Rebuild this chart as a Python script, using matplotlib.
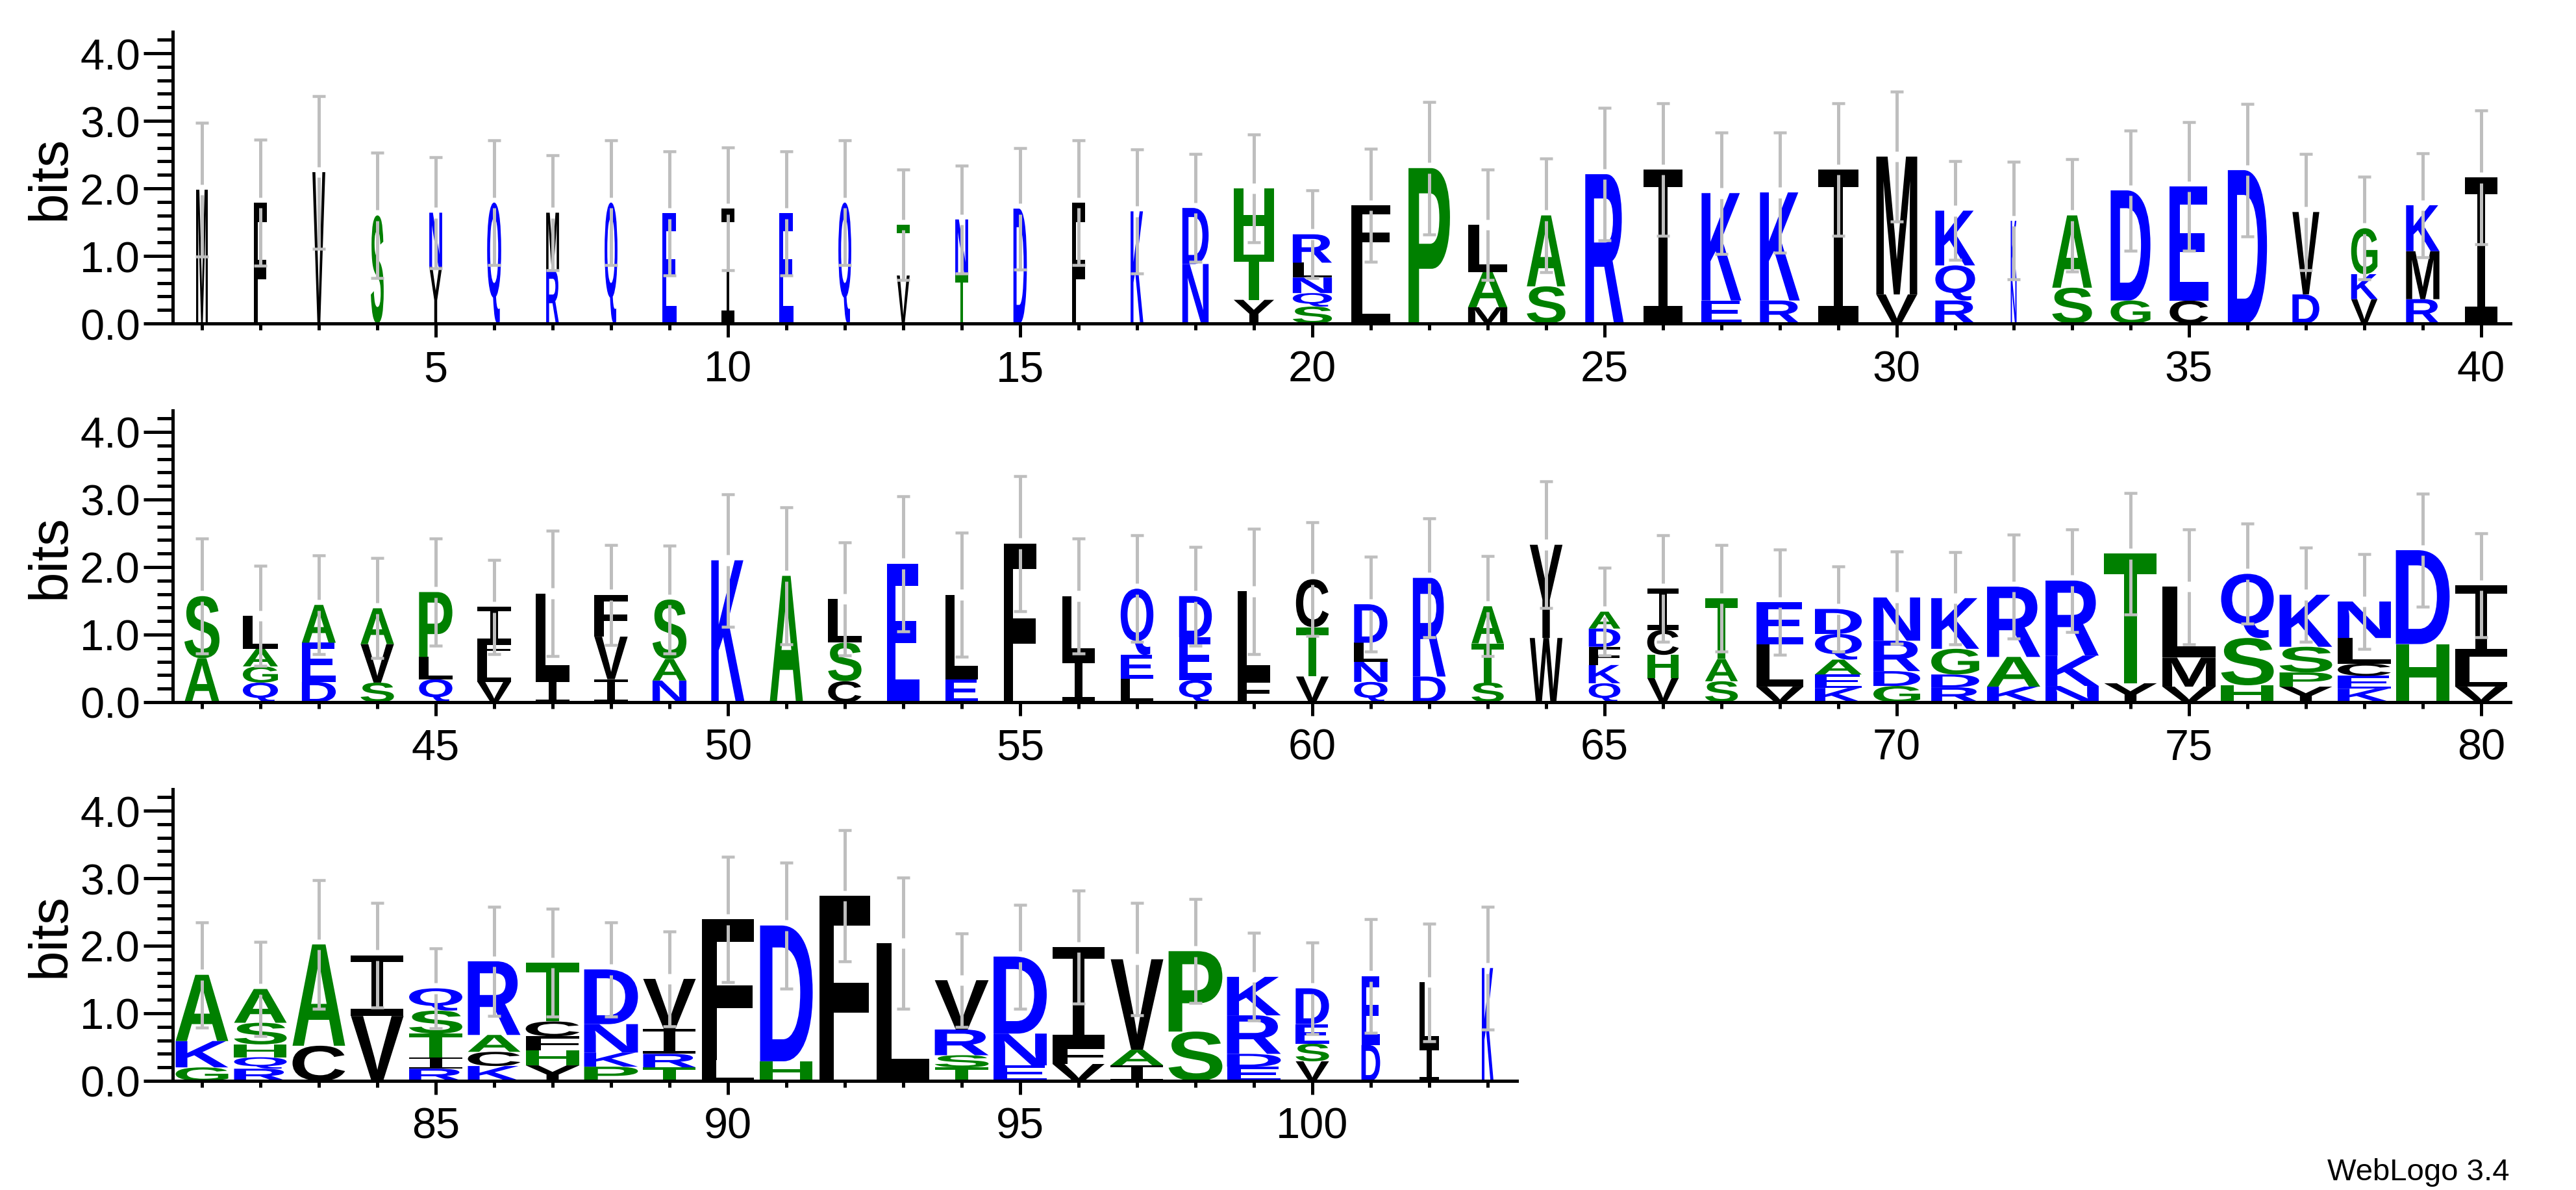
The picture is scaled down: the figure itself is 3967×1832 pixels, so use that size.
import matplotlib
matplotlib.use('Agg')
import matplotlib.pyplot as plt
from matplotlib.textpath import TextPath
from matplotlib.font_manager import FontProperties
from matplotlib.patches import PathPatch
from matplotlib.transforms import Affine2D
from matplotlib.ticker import MultipleLocator, FormatStrFormatter

# ---------------- data ----------------
positions = list(range(1, 104))

# letters of each stack, bottom -> top
stack_letters = [
    "M", "F", "V", "S", "YN", "Q", "RM", "Q", "E", "I",
    "E", "Q", "VT", "TN", "D", "F", "K", "ND", "YTH", "SQNLR",
    "LF", "P", "MAL", "SA", "R", "I", "EK", "RK", "I", "VM",
    "RQK", "NK", "SA", "GD", "CE", "D", "DV", "VKG", "RMK", "I",
    "AS", "QGAL", "DEA", "SVA", "QLP", "VLFI", "IL", "IVF", "NAS", "K",
    "A", "CSL", "E", "EL", "F", "IL", "LEQ", "QED", "FL", "VTC",
    "QNLD", "DR", "STA", "WY", "QKFDA", "VHCI", "SAT", "VLE", "KEAQD", "GDRN",
    "RDGK", "KAR", "NKR", "YT", "VML", "HSQ", "YPSK", "KECLN", "HD", "VLI",
    "GKA", "RQHSA", "CA", "VI", "RITSQ", "KCAR", "YHFCT", "PKND", "TRIV", "LF",
    "HD", "F", "L", "TSRV", "END", "VFI", "IAV", "SP", "EDRK", "VSED",
    "DE", "IL", "K",
]

# height (bits) of each letter, same order as stack_letters
stack_bits = [
    [1.98], [1.79], [2.24], [1.60], [0.84, 0.80], [1.79], [0.79, 0.85], [1.79], [1.63], [1.70],
    [1.63], [1.79], [0.71, 0.75], [0.72, 0.82], [1.70], [1.79], [1.66], [0.88, 0.83], [0.35, 0.67, 0.98], [0.25, 0.20, 0.23, 0.22, 0.42],
    [0.89, 0.86], [2.30], [0.24, 0.52, 0.70], [0.55, 1.05], [2.21], [2.28], [0.34, 1.59], [0.34, 1.60], [2.28], [0.43, 2.04],
    [0.34, 0.52, 0.81], [0.64, 0.88], [0.53, 1.07], [0.34, 1.63], [0.34, 1.69], [2.27], [0.43, 1.22], [0.36, 0.37, 0.68], [0.36, 0.71, 0.68], [2.16],
    [0.65, 0.92], [0.29, 0.24, 0.26, 0.49], [0.30, 0.58, 0.56], [0.29, 0.57, 0.53], [0.34, 0.33, 0.96], [0.30, 0.39, 0.19, 0.53], [0.34, 1.27], [0.34, 0.63, 0.62], [0.32, 0.32, 0.88], [2.10],
    [1.87], [0.31, 0.57, 0.65], [2.05], [0.34, 1.25], [2.35], [0.65, 0.92], [0.35, 0.35, 0.98], [0.33, 0.63, 0.61], [0.34, 1.30], [0.38, 0.73, 0.71],
    [0.30, 0.30, 0.28, 0.57], [0.38, 1.46], [0.29, 0.58, 0.55], [0.95, 1.38], [0.28, 0.27, 0.27, 0.27, 0.25], [0.36, 0.34, 0.37, 0.61], [0.31, 0.33, 0.90], [0.23, 0.63, 0.62], [0.21, 0.20, 0.22, 0.38, 0.37], [0.24, 0.22, 0.45, 0.64],
    [0.22, 0.19, 0.38, 0.75], [0.23, 0.44, 1.04], [0.24, 0.45, 1.11], [0.28, 1.92], [0.23, 0.43, 1.05], [0.25, 0.70, 0.95], [0.23, 0.21, 0.38, 0.77], [0.20, 0.19, 0.18, 0.38, 0.54], [0.86, 1.39], [0.23, 0.44, 1.06],
    [0.20, 0.39, 0.98], [0.18, 0.17, 0.19, 0.32, 0.50], [0.52, 1.50], [0.96, 0.90], [0.18, 0.17, 0.35, 0.34, 0.33], [0.22, 0.21, 0.25, 1.09], [0.23, 0.22, 0.21, 0.22, 0.87], [0.21, 0.21, 0.42, 0.81], [0.20, 0.20, 0.37, 0.74], [0.31, 2.08],
    [0.29, 2.01], [2.74], [2.04], [0.20, 0.18, 0.38, 0.73], [0.23, 0.47, 1.14], [0.25, 0.26, 1.47], [0.23, 0.23, 1.34], [0.73, 1.19], [0.21, 0.19, 0.57, 0.57], [0.29, 0.26, 0.29, 0.53],
    [0.53, 1.02], [0.51, 0.95], [1.67],
]

# visible stack width (fraction of a column; narrow where many gaps)
col_width = [
    0.20, 0.22, 0.22, 0.22, 0.22, 0.24, 0.22, 0.22, 0.24, 0.22,
    0.24, 0.22, 0.22, 0.22, 0.23, 0.23, 0.22, 0.45, 0.69, 0.67,
    0.67, 0.71, 0.67, 0.66, 0.66, 0.66, 0.68, 0.68, 0.68, 0.70,
    0.68, 0.10, 0.68, 0.68, 0.66, 0.67, 0.46, 0.45, 0.57, 0.56,
    0.60, 0.60, 0.58, 0.57, 0.57, 0.57, 0.57, 0.57, 0.58, 0.57,
    0.57, 0.57, 0.55, 0.56, 0.56, 0.56, 0.56, 0.56, 0.56, 0.56,
    0.57, 0.56, 0.55, 0.56, 0.54, 0.54, 0.56, 0.81, 0.80, 0.80,
    0.82, 0.91, 0.91, 0.90, 0.91, 0.90, 0.90, 0.91, 0.92, 0.89,
    0.90, 0.90, 0.90, 0.90, 0.91, 0.90, 0.92, 0.92, 0.90, 0.89,
    0.90, 0.87, 0.90, 0.92, 0.91, 0.89, 0.90, 0.92, 0.92, 0.57,
    0.32, 0.34, 0.20,
]

# error bar half-length (bits)
err_bits = [
    0.99, 0.93, 1.13, 0.93, 0.82, 0.92, 0.85, 0.92, 0.92, 0.91,
    0.92, 0.92, 0.82, 0.80, 0.90, 0.92, 0.92, 0.80, 0.80, 0.65,
    0.84, 0.98, 0.82, 0.84, 0.98, 0.98, 0.90, 0.89, 0.98, 0.96,
    0.73, 0.87, 0.83, 0.89, 0.95, 0.98, 0.86, 0.76, 0.77, 0.99,
    0.85, 0.74, 0.73, 0.74, 0.79, 0.70, 0.93, 0.74, 0.80, 0.98,
    1.01, 0.84, 1.00, 0.92, 1.00, 0.85, 0.79, 0.73, 0.93, 0.84,
    0.70, 0.88, 0.74, 0.94, 0.65, 0.79, 0.79, 0.78, 0.63, 0.68,
    0.68, 0.77, 0.76, 0.90, 0.85, 0.74, 0.70, 0.70, 0.84, 0.77,
    0.78, 0.70, 0.95, 0.77, 0.59, 0.81, 0.80, 0.70, 0.70, 0.93,
    0.93, 0.97, 0.97, 0.69, 0.77, 0.84, 0.83, 0.77, 0.65, 0.68,
    0.84, 0.87, 0.91,
]

row_ranges = [(1, 40), (41, 80), (81, 103)]
y_max = 4.32

# ---------------- style ----------------
BLUE, GREEN, BLACK = '#0000ff', '#008000', '#000000'
letter_color = {}
for c in 'RKDENQ':
    letter_color[c] = BLUE
for c in 'SGHTAP':
    letter_color[c] = GREEN
for c in 'YVMCLFIW':
    letter_color[c] = BLACK
ERR_COLOR = '#bebebe'

plt.rcParams['font.family'] = ['Liberation Sans', 'DejaVu Sans']

W, H = 3967, 1833
DPI = 100
PT = 72.0 / DPI   # points per pixel
fig = plt.figure(figsize=(W / DPI, H / DPI), dpi=DPI)

sans_bold = FontProperties(family='Liberation Sans', weight='bold')
i_beam = FontProperties(family=['Liberation Mono', 'DejaVu Sans Mono'])
_glyphs = {}


def glyph(ch):
    if ch not in _glyphs:
        fp = i_beam if ch == 'I' else sans_bold
        p = TextPath((0, 0), ch, size=100, prop=fp)
        _glyphs[ch] = (p, p.get_extents())
    return _glyphs[ch]


zero_px = [499, 1082, 1665]
px_per_bit = 104
left_px = 266
col_px = 90
gap = 0.08

for (start, end), z in zip(row_ranges, zero_px):
    n = end - start + 1
    ax = fig.add_axes([left_px / W, 1 - z / H, n * col_px / W, y_max * px_per_bit / H])
    ax.set_xlim(start - 0.5, end + 0.5)
    ax.set_ylim(0, y_max)
    for pos in positions[start - 1:end]:
        k = pos - 1
        w = col_width[k]
        y0 = 0.0
        for ch, h in zip(stack_letters[k], stack_bits[k]):
            p, ext = glyph(ch)
            tr = (Affine2D().translate(-ext.x0, -ext.y0)
                  .scale(w / ext.width, h / ext.height)
                  .translate(pos - w / 2, y0))
            ax.add_patch(PathPatch(p, transform=tr + ax.transData,
                                   facecolor=letter_color[ch], edgecolor='none',
                                   zorder=2))
            y0 += h
        e = err_bits[k]
        ax.vlines([pos, pos], [y0 - e, y0 + gap], [y0 - gap, y0 + e],
                  colors=ERR_COLOR, linewidth=5 * PT, zorder=3)
        ax.hlines([y0 - e, y0 + e], pos - 0.115, pos + 0.115,
                  colors=ERR_COLOR, linewidth=4.5 * PT, zorder=3)

    for s in ('top', 'right'):
        ax.spines[s].set_visible(False)
    for s in ('left', 'bottom'):
        ax.spines[s].set_linewidth(5 * PT)
    ax.xaxis.set_major_locator(MultipleLocator(5))
    ax.xaxis.set_minor_locator(MultipleLocator(1))
    ax.yaxis.set_major_locator(MultipleLocator(1))
    ax.yaxis.set_minor_locator(MultipleLocator(0.2))
    ax.yaxis.set_major_formatter(FormatStrFormatter('%.1f'))
    ax.tick_params(axis='x', which='major', direction='out', length=21 * PT,
                   width=5 * PT, pad=19 * PT, labelsize=48)
    ax.tick_params(axis='x', which='minor', direction='out', length=10 * PT,
                   width=5 * PT)
    ax.tick_params(axis='y', which='major', direction='out', length=45 * PT,
                   width=5 * PT, pad=5 * PT, labelsize=48)
    ax.tick_params(axis='y', which='minor', direction='out', length=24 * PT,
                   width=5 * PT)
    ax.patch.set_visible(False)

    yc = 1 - (z - y_max * px_per_bit / 2) / H
    fig.text(78 / W, yc, 'bits', rotation=90, ha='center', va='center', fontsize=60)

fig.text(3865 / W, 1 - 1817 / H, 'WebLogo 3.4', ha='right', va='baseline', fontsize=34)

fig.savefig('out.png', dpi=DPI, facecolor='white')
